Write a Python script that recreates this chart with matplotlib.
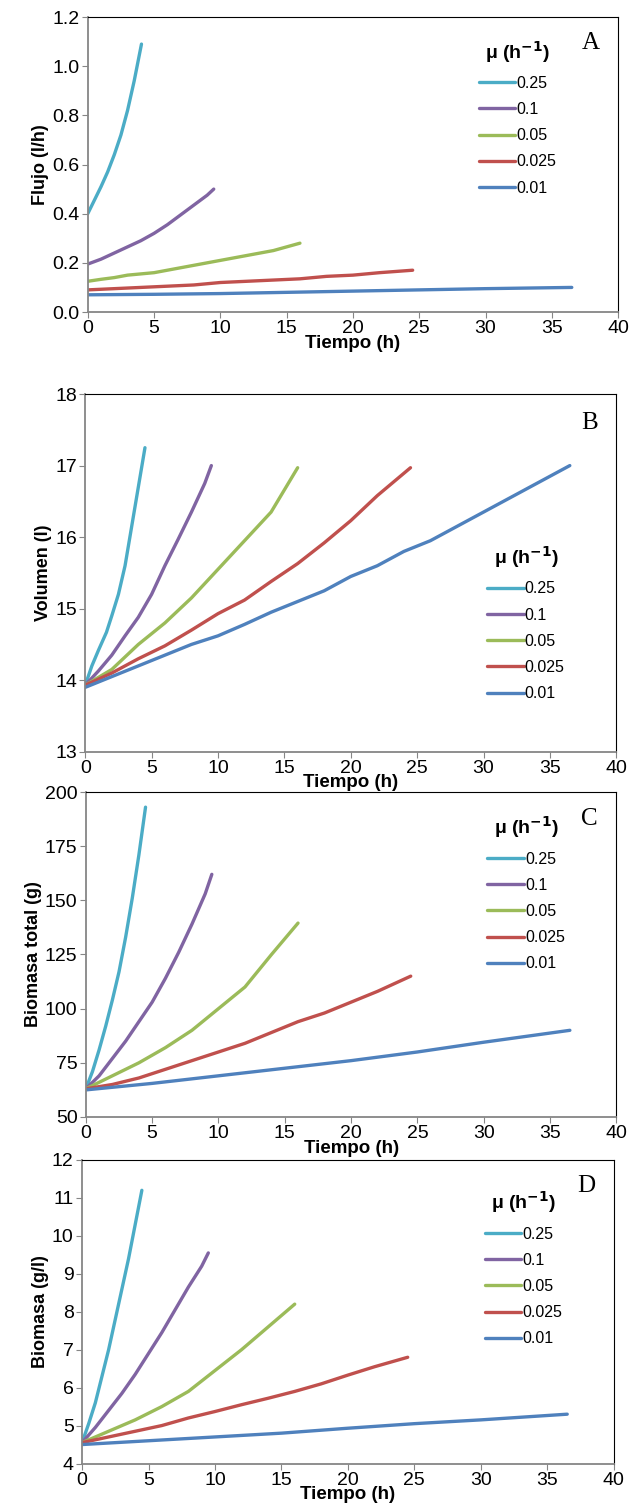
import numpy as np
import matplotlib.pyplot as plt

labels = ['0.25', '0.1', '0.05', '0.025', '0.01']
colors = ['#4BACC6', '#8064A2', '#9BBB59', '#C0504D', '#4F81BD']

# A - Flujo (l/h)
flujo_t = [
    [0, 0.5, 1, 1.5, 2, 2.5, 3, 3.5, 4.05],
    [0, 1, 2, 3, 4, 5, 6, 7, 8, 9, 9.5],
    [0, 1, 2, 3, 4, 5, 6, 7, 8, 9, 10, 11, 12, 13, 14, 15, 16],
    [0, 2, 4, 6, 8, 10, 12, 14, 16, 18, 20, 22, 24.5],
    [0, 5, 10, 15, 20, 25, 30, 36.5],
]
flujo_v = [
    [0.40, 0.455, 0.51, 0.57, 0.64, 0.72, 0.82, 0.94, 1.09],
    [0.195, 0.215, 0.24, 0.265, 0.29, 0.32, 0.355, 0.395, 0.435, 0.475, 0.50],
    [0.125, 0.133, 0.14, 0.15, 0.155, 0.16, 0.17, 0.18, 0.19, 0.20, 0.21,
     0.22, 0.23, 0.24, 0.25, 0.265, 0.28],
    [0.09, 0.095, 0.10, 0.105, 0.11, 0.12, 0.125, 0.13, 0.135, 0.145, 0.15, 0.16, 0.17],
    [0.07, 0.072, 0.075, 0.08, 0.085, 0.09, 0.095, 0.10],
]

# B - Volumen (l)
vol_t = [
    [0, 0.5, 1, 1.6, 2, 2.5, 3, 3.5, 4, 4.5],
    [0, 1, 2, 3, 4, 5, 6, 7, 8, 9, 9.5],
    [0, 2, 4, 6, 8, 10, 12, 14, 16],
    [0, 2, 4, 6, 8, 10, 12, 14, 16, 18, 20, 22, 24.5],
    [0, 2, 4, 6, 8, 10, 12, 14, 16, 18, 20, 22, 24, 26, 28, 30, 32, 34, 36.5],
]
vol_v = [
    [13.93, 14.2, 14.42, 14.67, 14.9, 15.2, 15.6, 16.15, 16.7, 17.25],
    [13.93, 14.13, 14.35, 14.62, 14.88, 15.2, 15.6, 15.97, 16.35, 16.75, 17.0],
    [13.93, 14.15, 14.5, 14.8, 15.15, 15.55, 15.95, 16.35, 16.97],
    [13.93, 14.1, 14.3, 14.48, 14.7, 14.93, 15.12, 15.38, 15.63, 15.92, 16.23, 16.58, 16.97],
    [13.9, 14.05, 14.2, 14.35, 14.5, 14.62, 14.78, 14.95, 15.1, 15.25, 15.45,
     15.6, 15.8, 15.95, 16.15, 16.35, 16.55, 16.75, 17.0],
]

# C - Biomasa total (g)
biot_t = [
    [0, 0.5, 1, 1.5, 2, 2.5, 3, 3.5, 4, 4.5],
    [0, 1, 2, 3, 4, 5, 6, 7, 8, 9, 9.5],
    [0, 2, 4, 6, 8, 10, 12, 14, 16],
    [0, 2, 4, 6, 8, 10, 12, 14, 16, 18, 20, 22, 24.5],
    [0, 5, 10, 15, 20, 25, 30, 36.5],
]
biot_v = [
    [63, 71, 81, 92, 104, 117, 133, 151, 171, 193],
    [63, 69, 77, 85, 94, 103, 114, 126, 139, 153, 162],
    [63, 69, 75, 82, 90, 100, 110, 125, 139.5],
    [63, 65, 68, 72, 76, 80, 84, 89, 94, 98, 103, 108, 115],
    [62.5, 65.5, 69, 72.5, 76, 80, 84.5, 90],
]

# D - Biomasa (g/l)
bio_t = [
    [0, 0.5, 1, 1.5, 2, 2.5, 3, 3.5, 4, 4.5],
    [0, 1, 2, 3, 4, 5, 6, 7, 8, 9, 9.5],
    [0, 2, 4, 6, 8, 10, 12, 14, 15, 16],
    [0, 2, 4, 6, 8, 10, 12, 14, 16, 18, 20, 22, 24.5],
    [0, 5, 10, 15, 20, 25, 30, 36.5],
]
bio_v = [
    [4.55, 5.05, 5.6, 6.3, 7.0, 7.8, 8.6, 9.4, 10.3, 11.2],
    [4.55, 4.95, 5.4, 5.85, 6.35, 6.9, 7.45, 8.05, 8.65, 9.2, 9.55],
    [4.55, 4.85, 5.15, 5.5, 5.9, 6.45, 7.0, 7.6, 7.9, 8.2],
    [4.55, 4.7, 4.85, 5.0, 5.2, 5.37, 5.55, 5.72, 5.9, 6.1, 6.33, 6.55, 6.8],
    [4.5, 4.6, 4.7, 4.8, 4.93, 5.05, 5.15, 5.3],
]

panels = [
    dict(t=flujo_t, v=flujo_v, ylabel='Flujo (l/h)', ylim=(0, 1.2),
         yticks=np.arange(0, 1.21, 0.2), fmt='{:.1f}', letter='A',
         rect=[0.138, 0.7931, 0.834, 0.1956], leg=(0.71, 0.975)),
    dict(t=vol_t, v=vol_v, ylabel='Volumen (l)', ylim=(13, 18),
         yticks=np.arange(13, 19, 1), fmt='{:.0f}', letter='B',
         rect=[0.134, 0.5015, 0.835, 0.2372], leg=(0.73, 0.62)),
    dict(t=biot_t, v=biot_v, ylabel='Biomasa total (g)', ylim=(50, 200),
         yticks=np.arange(50, 201, 25), fmt='{:.0f}', letter='C',
         rect=[0.135, 0.2593, 0.834, 0.2155], leg=(0.73, 0.975)),
    dict(t=bio_t, v=bio_v, ylabel='Biomasa (g/l)', ylim=(4, 12),
         yticks=np.arange(4, 13, 1), fmt='{:.0f}', letter='D',
         rect=[0.129, 0.0295, 0.836, 0.2013], leg=(0.73, 0.95)),
]

fig = plt.figure(figsize=(6.36, 15.08), dpi=100)
plt.rcParams['font.family'] = ['Liberation Sans', 'DejaVu Sans']

for p in panels:
    ax = fig.add_axes(p['rect'])
    for tt, vv, lab, col in zip(p['t'], p['v'], labels, colors):
        ax.plot(tt, vv, color=col, lw=2.4, label=lab, solid_capstyle='round')
    ax.set_xlim(0, 40)
    ax.set_ylim(*p['ylim'])
    ax.set_xticks(np.arange(0, 41, 5))
    ax.set_yticks(p['yticks'])
    ax.set_yticklabels([p['fmt'].format(y) for y in p['yticks']])
    ax.tick_params(labelsize=14, direction='out', length=4, color='#868686', pad=2)
    for s in ['left', 'bottom']:
        ax.spines[s].set_color('#868686')
        ax.spines[s].set_linewidth(1.3)
    for s in ['top', 'right']:
        ax.spines[s].set_color('black')
        ax.spines[s].set_linewidth(0.8)
    ax.set_xlabel('Tiempo (h)', fontsize=13.5, fontweight='bold', labelpad=-2)
    ax.set_ylabel(p['ylabel'], fontsize=13, fontweight='bold', labelpad=2)
    ax.text(0.965, 0.95, p['letter'], transform=ax.transAxes, ha='right', va='top',
            fontsize=18, family='Liberation Serif')
    ax.legend(loc='upper left', bbox_to_anchor=p['leg'], frameon=False,
              fontsize=11.5, handlelength=2.3, handletextpad=0.05,
              labelspacing=0.7, title='\u03bc (h$^{\\mathbf{-1}}$)',
              title_fontproperties={'size': 14, 'weight': 'bold'})

fig.savefig('out.png', dpi=100)
